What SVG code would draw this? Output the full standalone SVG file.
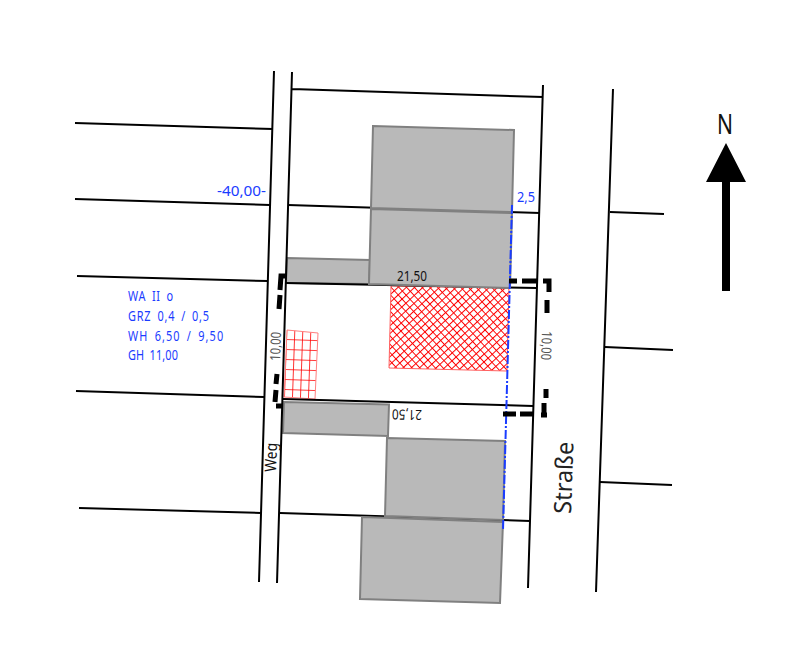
<svg xmlns="http://www.w3.org/2000/svg" width="791" height="647" viewBox="0 0 791 647">
<style>
.l{stroke:#000;stroke-width:2;fill:none}
.b{fill:#b9b9b9;stroke:#808080;stroke-width:2}
.d{stroke:#000;stroke-width:5;fill:none}
text{font-family:"Noto Sans","DejaVu Sans",sans-serif;font-weight:400}
.t{fill:#1a3cff;font-size:14px}
.k{fill:#111;font-size:14px}
.g{fill:#555;font-size:14px}
</style>
<defs>
<pattern id="cross" width="5.66" height="5.66" patternUnits="userSpaceOnUse" patternTransform="rotate(47)">
<path d="M0 0H5.66M0 0V5.66" stroke="#f00" stroke-width="2" fill="none"/>
</pattern>
<pattern id="grid" width="8" height="10" patternUnits="userSpaceOnUse" patternTransform="translate(286 339) rotate(2)">
<path d="M0 0H8M0 0V10" stroke="#f00" stroke-width="1.6" fill="none"/>
</pattern>
</defs>
<g id="hatch">
<polygon points="391,286 509,288 507,371 389,368" fill="url(#cross)" stroke="#ff6060" stroke-width="1"/>
<polygon points="287,330 318,333 315,399 284,397" fill="url(#grid)" stroke="#ff8080" stroke-width="1"/>
</g>
<g id="lowerbuildings">
<polygon id="b3" class="b" points="287,258 370,260 369,284 286,283"/>
<polygon id="b4" class="b" points="284,402 389,404.5 388,436 283,433"/>
</g>
<g id="connectors">
<path class="l" d="M274 71L259 582M292 72L277 583M543 85L528 588M613 89L596 592M292 89L543 97"/>
<path class="l" d="M75 123L273 129M75 199L270 205M77 276L268 281M76 391L264 397M79 508L261 513"/>
<path class="l" d="M288 205L540 213M286 283L537 288M283 399L533 406M280 513L530 521"/>
<path class="l" d="M610 212L664 214M605 347L673 350M600 482L672 485"/>
</g>
<g id="buildings">
<polygon id="b1" class="b" points="373,126 514,130 512,212 371,208"/>
<polygon id="b2" class="b" points="371,209 512,213 510,288 369,284"/>
<polygon id="b5" class="b" points="387,438 505,441 503,520 385,516"/>
<polygon id="b6" class="b" points="362,517 503,522 500,603 360,599"/>
</g>
<g id="overlays">
<path d="M512 205L503 530" stroke="#1a3cff" stroke-width="2" fill="none" stroke-dasharray="9 2 2 2"/>
<path class="d" d="M286 276H281L280 290M280 295L279 309M277 374L276 384M276 390L275 402M276 406H283"/>
<path class="d" d="M509 281H517M522 281H537M543 281H549V292M547 300V313M546 389V398M544 403V417M503 414H516M520 414H534M541 415H547"/>
</g>
<g id="north">
<path d="M726 143L746 182H730V291H722V182H706Z" fill="#000"/>
<text x="717" y="134" textLength="16" lengthAdjust="spacingAndGlyphs" style="font-size:27px;fill:#111">N</text>
</g>
<g id="labels">
<text class="t" x="217" y="196" textLength="49" lengthAdjust="spacingAndGlyphs">-40,00-</text>
<text class="t" x="517" y="202" textLength="18" lengthAdjust="spacingAndGlyphs">2,5</text>
<g transform="translate(128 0) scale(.78 1)">
<text class="t" x="0" y="301" textLength="58" lengthAdjust="spacing" word-spacing="3">WA II o</text>
<text class="t" x="0" y="321" textLength="104" lengthAdjust="spacing" word-spacing="3">GRZ 0,4 / 0,5</text>
<text class="t" x="0" y="341" textLength="122" lengthAdjust="spacing" word-spacing="3">WH 6,50 / 9,50</text>
<text class="t" x="0" y="360" textLength="64" lengthAdjust="spacing" word-spacing="3">GH 11,00</text>
</g>
<text class="k" x="397" y="281" textLength="30" lengthAdjust="spacingAndGlyphs">21,50</text>
<text class="k" transform="translate(422 410) rotate(181)" textLength="30" lengthAdjust="spacingAndGlyphs">21,50</text>
<text class="g" transform="translate(280 361) rotate(-88)" textLength="29" lengthAdjust="spacingAndGlyphs">10,00</text>
<text class="g" transform="translate(542 331) rotate(92)" textLength="29" lengthAdjust="spacingAndGlyphs">10,00</text>
<text class="k" transform="translate(276 472) rotate(-88)" style="font-size:16px" textLength="29" lengthAdjust="spacingAndGlyphs">Weg</text>
<text class="k" transform="translate(571 514) rotate(-88)" style="font-size:24px;fill:#222" textLength="72" lengthAdjust="spacingAndGlyphs">Straße</text>
</g>
</svg>
